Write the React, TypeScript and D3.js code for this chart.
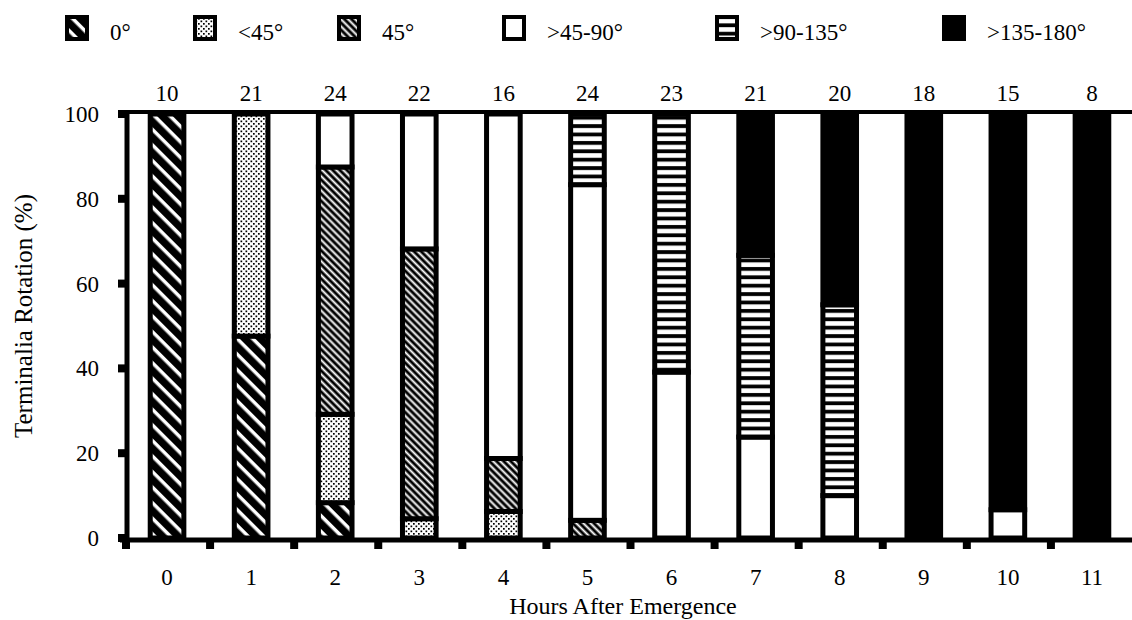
import React from "react";
import * as d3 from "d3";

// Hours after emergence (categories) and sample sizes shown above bars
const hours = ["0", "1", "2", "3", "4", "5", "6", "7", "8", "9", "10", "11"];
const sampleN = [10, 21, 24, 22, 16, 24, 23, 21, 20, 18, 15, 8];

// Counts per rotation class (stacked bottom to top)
const deg0 = [10, 10, 2, 0, 0, 0, 0, 0, 0, 0, 0, 0];
const lt45 = [0, 11, 5, 1, 1, 0, 0, 0, 0, 0, 0, 0];
const deg45 = [0, 0, 14, 14, 2, 1, 0, 0, 0, 0, 0, 0];
const gt45to90 = [0, 0, 3, 7, 13, 19, 9, 5, 2, 0, 1, 0];
const gt90to135 = [0, 0, 0, 0, 0, 4, 14, 9, 9, 0, 0, 0];
const gt135to180 = [0, 0, 0, 0, 0, 0, 0, 7, 9, 18, 14, 8];

const seriesKeys = ["0°", "<45°", "45°", ">45-90°", ">90-135°", ">135-180°"];
const seriesCounts = [deg0, lt45, deg45, gt45to90, gt90to135, gt135to180];
const yTicks = [0, 20, 40, 60, 80, 100];

const fills: Record<string, string> = {
  "0°": "url(#pZero)",
  "<45°": "url(#pDot)",
  "45°": "url(#pFine)",
  ">45-90°": "#fff",
  ">90-135°": "url(#pHoriz)",
  ">135-180°": "#000",
};

const legendX = [65, 193, 337, 502, 715, 942];

const FONT = "'Liberation Serif', 'Times New Roman', serif";

export default function App() {
  const W = 1132, H = 620;
  const left = 125, right = 1134;
  const x = d3.scaleBand<string>().domain(hours).range([left, right]).paddingInner(0.6).paddingOuter(0.3);
  const y = d3.scaleLinear().domain([0, 100]).range([538, 114]);

  const table = hours.map((h, i) => {
    const row: Record<string, number | string> = { hour: h };
    seriesKeys.forEach((k, j) => {
      row[k] = (seriesCounts[j][i] / sampleN[i]) * 100;
    });
    return row;
  });
  const stacked = d3.stack<Record<string, number | string>>().keys(seriesKeys)(table as any);
  const step = x.step();

  return (
    <svg width={W} height={H} style={{ position: "absolute", left: 0, top: 0, background: "#fff" }} fontFamily={FONT}>
      <defs>
        <pattern id="pZero" width="11" height="11" patternUnits="userSpaceOnUse" patternTransform="rotate(45)">
          <rect width="11" height="11" fill="#000" />
          <rect y="4" width="11" height="3.5" fill="#fff" />
        </pattern>
        <pattern id="pFine" width="5" height="5" patternUnits="userSpaceOnUse" patternTransform="rotate(45)">
          <rect width="5" height="5" fill="#000" />
          <rect y="1.5" width="5" height="2" fill="#fff" />
        </pattern>
        <pattern id="pDot" width="5" height="5" patternUnits="userSpaceOnUse">
          <rect width="5" height="5" fill="#fff" />
          <rect x="0.5" y="0.5" width="1.7" height="1.7" fill="#000" />
          <rect x="3" y="3" width="1.7" height="1.7" fill="#000" />
        </pattern>
        <pattern id="pHoriz" width="8" height="8.4" patternUnits="userSpaceOnUse">
          <rect width="8" height="8.4" fill="#000" />
          <rect y="2" width="8" height="4.6" fill="#fff" />
        </pattern>
      </defs>

      {/* Legend */}
      {seriesKeys.map((k, i) => (
        <g key={k}>
          <rect x={legendX[i] + 2} y={17} width={20} height={22} fill={fills[k]} stroke="#000" strokeWidth={4} />
          <text x={legendX[i] + 45} y={40} fontSize={23} fill="#000">{k}</text>
        </g>
      ))}

      {/* Bars */}
      {stacked.map((layer) => (
        <g key={layer.key}>
          {layer.map((d, i) => {
            const h = d[1] - d[0];
            if (h <= 0) return null;
            return (
              <rect
                key={i}
                x={x(hours[i])}
                y={y(d[1])}
                width={x.bandwidth()}
                height={y(d[0]) - y(d[1])}
                fill={fills[layer.key]}
                stroke="#000"
                strokeWidth={5}
              />
            );
          })}
        </g>
      ))}

      {/* Frame: top line, y axis, x axis */}
      <line x1={left} x2={W} y1={112} y2={112} stroke="#000" strokeWidth={4} />
      <line x1={127} x2={127} y1={110} y2={542} stroke="#000" strokeWidth={5} />
      <line x1={120} x2={W} y1={540} y2={540} stroke="#000" strokeWidth={5} />

      {/* Y ticks */}
      {yTicks.map((t) => (
        <g key={t}>
          <rect x={118} y={y(t) - 4} width={9} height={8} fill="#000" />
          <text x={99} y={y(t) + 8} fontSize={23} textAnchor="end" fill="#000">{t}</text>
        </g>
      ))}

      {/* X ticks at band boundaries */}
      {hours.map((h, i) => (
        <rect key={h} x={left + step * i - 3} y={541} width={8} height={8} fill="#000" />
      ))}

      {/* X labels */}
      {hours.map((h) => (
        <text key={h} x={(x(h) as number) + x.bandwidth() / 2} y={585} fontSize={23} textAnchor="middle" fill="#000">{h}</text>
      ))}

      {/* Counts above bars */}
      {hours.map((h, i) => (
        <text key={h} x={(x(h) as number) + x.bandwidth() / 2} y={101} fontSize={23} textAnchor="middle" fill="#000">{sampleN[i]}</text>
      ))}

      {/* Axis titles */}
      <text x={623} y={614} fontSize={24} textAnchor="middle" fill="#000">Hours After Emergence</text>
      <text transform="translate(32,316) rotate(-90)" fontSize={25} textAnchor="middle" fill="#000">Terminalia Rotation (%)</text>
    </svg>
  );
}
